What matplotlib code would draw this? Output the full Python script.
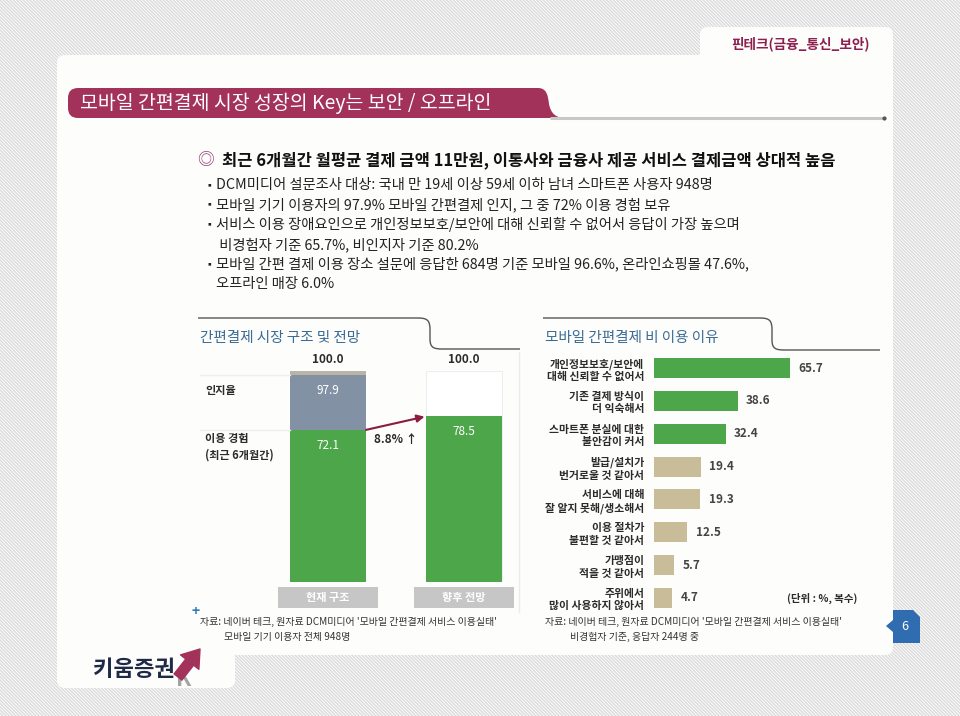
import matplotlib
matplotlib.use('Agg')
import matplotlib.pyplot as plt
from matplotlib.patches import Rectangle, FancyBboxPatch, PathPatch, Polygon
from matplotlib.path import Path
import matplotlib.transforms as mtransforms
import numpy as np

plt.rcParams['font.family'] = ['Noto Sans CJK KR', 'DejaVu Sans']
plt.rcParams['hatch.linewidth'] = 0.9

# ---------------- data ----------------
tab_title = '핀테크(금융_통신_보안)'
slide_title = '모바일 간편결제 시장 성장의 Key는 보안 / 오프라인'
headline = '최근 6개월간 월평균 결제 금액 11만원, 이통사와 금융사 제공 서비스 결제금액 상대적 높음'
bullet_lines = [
    (True, 'DCM미디어 설문조사 대상: 국내 만 19세 이상 59세 이하 남녀 스마트폰 사용자 948명'),
    (True, '모바일 기기 이용자의 97.9% 모바일 간편결제 인지, 그 중 72% 이용 경험 보유'),
    (True, '서비스 이용 장애요인으로 개인정보보호/보안에 대해 신뢰할 수 없어서 응답이 가장 높으며'),
    (False, ' 비경험자 기준 65.7%, 비인지자 기준 80.2%'),
    (True, '모바일 간편 결제 이용 장소 설문에 응답한 684명 기준 모바일 96.6%, 온라인쇼핑몰 47.6%,'),
    (False, '오프라인 매장 6.0%'),
]

left_title = '간편결제 시장 구조 및 전망'
cats1 = ['현재 구조', '향후 전망']
total1 = [100.0, 100.0]
aware1 = [97.9, None]
exper1 = [72.1, 78.5]
row_labels = ['인지율', '이용 경험\n(최근 6개월간)']
change_label = '8.8% ↑'

right_title = '모바일 간편결제 비 이용 이유'
reasons = ['개인정보보호/보안에\n대해 신뢰할 수 없어서', '기존 결제 방식이\n더 익숙해서',
           '스마트폰 분실에 대한\n불안감이 커서', '발급/설치가\n번거로울 것 같아서',
           '서비스에 대해\n잘 알지 못해/생소해서', '이용 절차가\n불편할 것 같아서',
           '가맹점이\n적을 것 같아서', '주위에서\n많이 사용하지 않아서']
reason_vals = [65.7, 38.6, 32.4, 19.4, 19.3, 12.5, 5.7, 4.7]
n_highlight = 3
unit_note = '(단위 : %, 복수)'

src_left = ["자료: 네이버 테크, 원자료 DCM미디어 '모바일 간편결제 서비스 이용실태'", '모바일 기기 이용자 전체 948명']
src_right = ["자료: 네이버 테크, 원자료 DCM미디어 '모바일 간편결제 서비스 이용실태'", '비경험자 기준, 응답자 244명 중']
page_no = '6'
logo_text = '키움증권'

# ---------------- styles ----------------
GREEN = '#4ea64b'
SLATE = '#8292a4'
TOPGRAY = '#bab4a8'
TAN = '#c9bd99'
MAROON = '#a3325a'
BLUE_T = '#3b6c95'
TXT = '#2b2b2b'

W, H = 960, 716
fig = plt.figure(figsize=(9.6, 7.16), dpi=100)
bg = fig.add_axes([0, 0, 1, 1])
bg.set_xlim(0, W); bg.set_ylim(H, 0); bg.axis('off')

# striped background
bg.add_patch(Rectangle((0, 0), W, H, facecolor='#fbfbfb', edgecolor='#d9d9d9',
                       hatch='\\' * 10, lw=0))
PANEL = '#fdfdfb'
for (x0, y0, w, h) in [(57, 55, 836, 600), (700, 27, 193, 60), (57, 600, 178, 88)]:
    bg.add_patch(FancyBboxPatch((x0, y0), w, h, boxstyle='round,pad=0,rounding_size=8',
                                fc=PANEL, ec='none'))

bg.text(870, 44, tab_title, ha='right', va='center', color='#8c1f4e', fontsize=9.8, fontweight='bold')

# title bar
verts = [(78, 88), (538, 88), (547, 88), (548, 96), (549, 104), (551, 114), (556, 118), (566, 118),
         (78, 118), (68, 118), (68, 108), (68, 98), (68, 88), (78, 88), (78, 88)]
codes = [Path.MOVETO, Path.LINETO, Path.CURVE4, Path.CURVE4, Path.CURVE4, Path.CURVE4, Path.CURVE4, Path.CURVE4,
         Path.LINETO, Path.CURVE3, Path.CURVE3, Path.LINETO, Path.CURVE3, Path.CURVE3, Path.CLOSEPOLY]
bg.plot([550, 884], [118, 118], color='#c8c8c8', lw=2.2, solid_capstyle='butt')
bg.plot([884], [118], 'o', ms=2, color='#555555')
bg.add_patch(PathPatch(Path(verts, codes), fc=MAROON, ec='none'))
bg.text(80, 103, slide_title, color='white', fontsize=14, va='center')

# headline and bullets
bg.text(197, 160, '◎', color='#8e3a6e', fontsize=12, va='center')
bg.text(222, 160, headline, color='#111111', fontsize=11.9, fontweight='bold', va='center')
yb = 185
for has_b, txt in bullet_lines:
    if has_b:
        bg.text(205, yb, '▪', fontsize=7, va='center', color='#222222')
    bg.text(216, yb, txt, fontsize=10.3, va='center', color='#222222', fontweight='light')
    yb += 19.8

# section header lines
def header_line(x0, xc, x1, y0, y1):
    v = [(x0, y0), (xc - 12, y0), (xc - 2, y0), (xc, y0 + 3), (xc, y0 + 12),
         (xc, y1 - 10), (xc, y1 - 1), (xc + 4, y1), (xc + 13, y1), (x1, y1)]
    c = [Path.MOVETO, Path.LINETO, Path.CURVE4, Path.CURVE4, Path.CURVE4,
         Path.LINETO, Path.CURVE4, Path.CURVE4, Path.CURVE4, Path.LINETO]
    bg.add_patch(PathPatch(Path(v, c), fc='none', ec='#555555', lw=1.0))

header_line(198, 430, 520, 318, 349)
header_line(543, 772, 880, 318, 350)
bg.text(200, 338, left_title, color=BLUE_T, fontsize=10.5, va='center')
bg.text(545, 338, right_title, color=BLUE_T, fontsize=10.5, va='center')
bg.plot([519, 519], [352, 612], color='#ececec', lw=1)

# ---------------- left chart ----------------
ax1 = fig.add_axes([260 / W, (H - 582) / H, 272 / W, 211 / H])
ax1.set_facecolor('none')
ax1.set_xlim(-0.5, 1.5); ax1.set_ylim(0, 100)
ax1.axis('off')
x1 = np.arange(len(cats1))
bw = 0.56
ax1.bar(x1[0], total1[0], width=bw, color=TOPGRAY)
ax1.bar(x1[0], aware1[0], width=bw, color=SLATE)
ax1.bar(x1[1], total1[1], width=bw, color='white', edgecolor='#eeeeee', lw=0.8)
ax1.bar(x1, exper1, width=bw, color=GREEN)
for i, t in enumerate(total1):
    ax1.annotate(f'{t:.1f}', xy=(x1[i], t), xytext=(0, 8), textcoords='offset points',
                 ha='center', va='center', fontsize=8.5, fontweight='bold', color=TXT)
ax1.annotate(f'{aware1[0]:.1f}', xy=(x1[0], aware1[0]), xytext=(0, -11), textcoords='offset points',
             ha='center', va='center', fontsize=8.5, color='white')
for i, v in enumerate(exper1):
    ax1.annotate(f'{v:.1f}', xy=(x1[i], v), xytext=(0, -11), textcoords='offset points',
                 ha='center', va='center', fontsize=8.5, color='white')
ax1.annotate('', xy=(x1[1] - bw / 2, exper1[1]), xytext=(x1[0] + bw / 2, exper1[0]),
             arrowprops=dict(arrowstyle='-|>', color='#8b1c3f', lw=1.5, shrinkA=0, shrinkB=1,
                             mutation_scale=11))
ax1.annotate(change_label, xy=((x1[0] + x1[1]) / 2, exper1[0]), xytext=(0, -7), textcoords='offset points',
             ha='center', va='center', fontsize=8.5, fontweight='bold', color=TXT)
trans_row = mtransforms.blended_transform_factory(bg.transData, ax1.transData)
for v in [aware1[0], exper1[0]]:
    ax1.plot([200, 290], [v, v], transform=trans_row, color='#eeeeee', lw=1, clip_on=False)
for lab, v, off in [(row_labels[0], aware1[0], -11), (row_labels[1], exper1[0], -12)]:
    ax1.annotate(lab, xy=(205, v), xycoords=trans_row, xytext=(0, off), textcoords='offset points',
                 ha='left', va='center', fontsize=8, fontweight='bold', color=TXT, linespacing=1.3)
trans_box = mtransforms.blended_transform_factory(ax1.transData, ax1.transAxes)
for i, c in enumerate(cats1):
    ax1.add_patch(Rectangle((x1[i] - 0.37, -0.123), 0.74, 0.10, transform=trans_box,
                            fc='#c6c6c6', ec='none', clip_on=False))
    ax1.text(x1[i], -0.073, c, transform=trans_box, ha='center', va='center', fontsize=8,
             color='white', fontweight='bold')

# ---------------- right chart ----------------
ax2 = fig.add_axes([654 / W, (H - 614.4) / H, 226 / W, 262.8 / H])
ax2.set_facecolor('none')
base = 4.65
ax2.set_xlim(-base, 112.2); ax2.set_ylim(len(reasons) - 0.5, -0.5)
y2 = np.arange(len(reasons))
cols = [GREEN if i < n_highlight else TAN for i in range(len(reasons))]
ax2.barh(y2, np.array(reason_vals) + base, left=-base, height=0.61, color=cols)
for i, v in enumerate(reason_vals):
    ax2.annotate(f'{v:.1f}', xy=(v, y2[i]), xytext=(6, 0), textcoords='offset points',
                 ha='left', va='center', fontsize=8.5, fontweight='bold', color='#444444')
ax2.set_yticks(y2, reasons, fontsize=7.8, fontweight='bold', color=TXT)
for t in ax2.get_yticklabels():
    t.set_multialignment('right')
    t.set_linespacing(1.3)
ax2.tick_params(axis='y', length=0, pad=7)
ax2.set_xticks([])
for s in ax2.spines.values():
    s.set_visible(False)
bg.text(857, 598, unit_note, ha='right', va='center', fontsize=7.5, fontweight='bold', color=TXT)

# ---------------- footnotes ----------------
bg.text(196, 612, '+', color='#2b7bbd', fontsize=10, fontweight='bold', ha='center', va='center')
FN = 7.2
bg.text(200, 622, src_left[0], fontsize=FN, va='center', color='#333333')
bg.text(224, 637, src_left[1], fontsize=FN, va='center', color='#333333')
bg.text(545, 622, src_right[0], fontsize=FN, va='center', color='#333333')
bg.text(570, 637, src_right[1], fontsize=FN, va='center', color='#333333')

# page tab
bg.add_patch(Polygon([(893, 610), (913, 610), (920, 617), (920, 643), (893, 643), (893, 632), (886, 626),
                      (893, 620)], closed=True, fc='#2f6db0', ec='none'))
bg.text(905, 626, page_no, color='white', fontsize=9, ha='center', va='center')

# logo
bg.text(184, 680, 'K', fontsize=16, fontweight='bold', color='#a3a3a3', ha='center', va='center')
bg.text(93, 669, logo_text, fontsize=16, fontweight='black', color='#1f2a47', va='center')
bg.annotate('', xy=(200, 649), xytext=(178, 677),
            arrowprops=dict(arrowstyle='simple,head_width=1.4,head_length=1.0,tail_width=0.6',
                            color=MAROON, mutation_scale=12, shrinkA=0, shrinkB=0))

fig.savefig('out.png', dpi=100)
